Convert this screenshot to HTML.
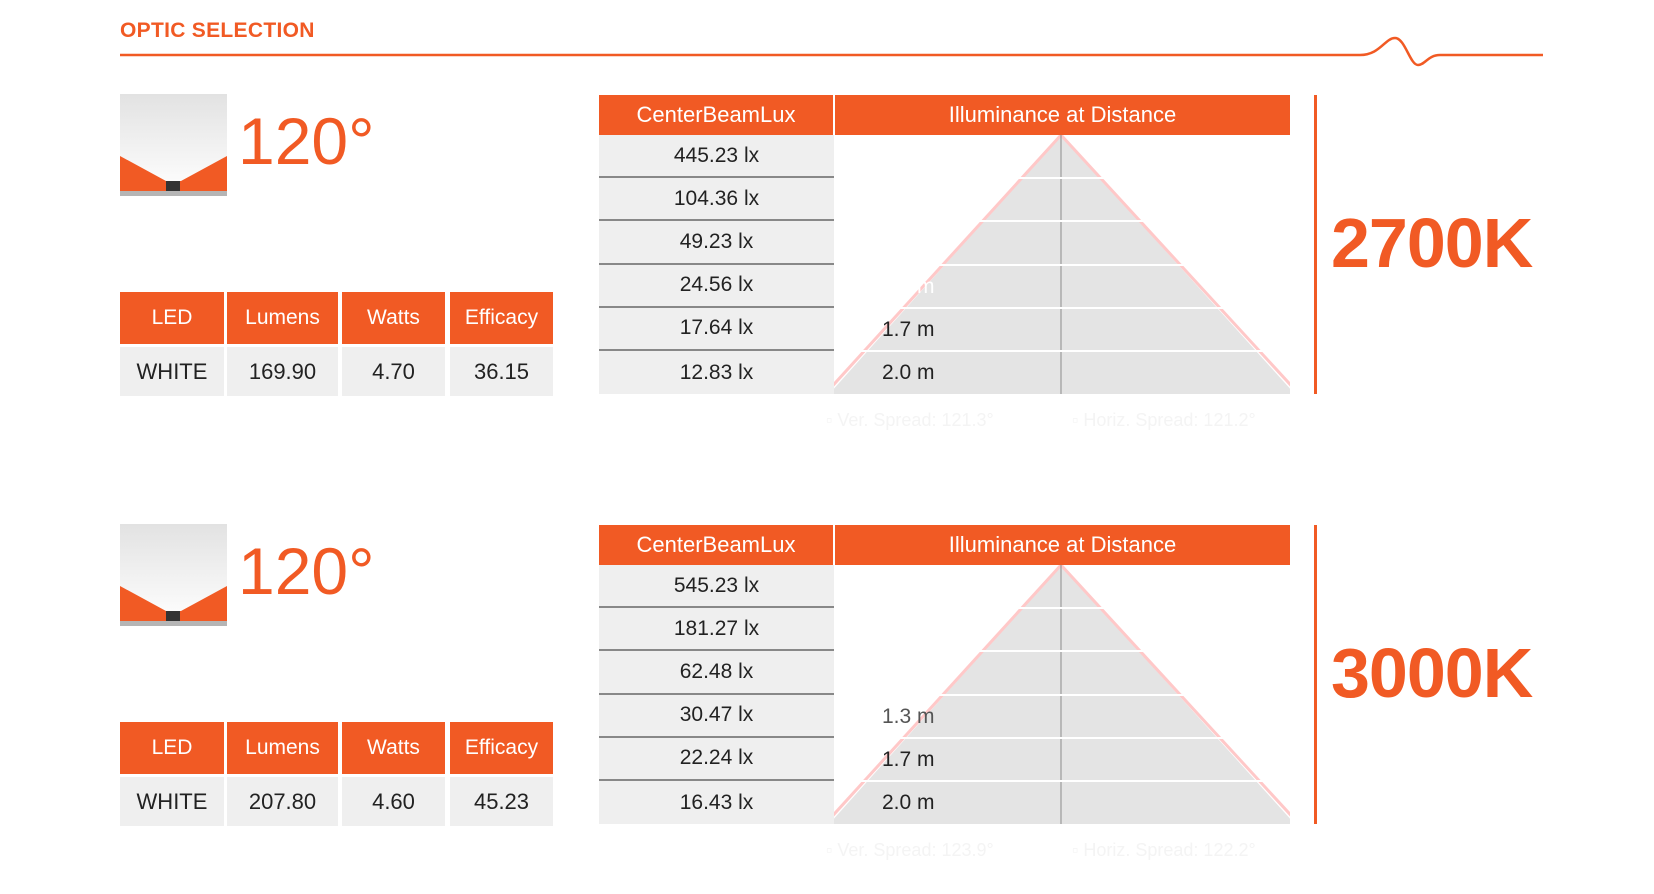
<!DOCTYPE html>
<html><head><meta charset="utf-8">
<style>
body{margin:0;background:#fff;font-family:"Liberation Sans",sans-serif;}
#root{position:relative;width:1654px;height:894px;overflow:hidden;}
.abs{position:absolute;}
.cell{position:absolute;display:flex;align-items:center;justify-content:center;box-sizing:border-box;}
</style></head><body>
<div id="root">
<div class="abs" style="left:120px;top:19px;font-size:21px;font-weight:bold;color:#f15a24;letter-spacing:0.3px">OPTIC SELECTION</div>
<svg class="abs" style="left:0;top:0" width="1654" height="80">
<path d="M120 55 L1360 55 C1380 55 1385 38 1395 38 C1405 38 1410 65 1418 65 C1425 65 1428 55 1440 55 L1543 55" fill="none" stroke="#f15a24" stroke-width="2.5"/>
</svg>
</div>
<script>
const temps=["2700K","3000K"];
const beamAngles=["120°","120°"];
const lumens=["169.90","207.80"];
const watts=["4.70","4.60"];
const efficacy=["36.15","45.23"];
const luxA=["445.23 lx","104.36 lx","49.23 lx","24.56 lx","17.64 lx","12.83 lx"];
const luxB=["545.23 lx","181.27 lx","62.48 lx","30.47 lx","22.24 lx","16.43 lx"];
const distances=["0.3 m","0.7 m","1.0 m","1.3 m","1.7 m","2.0 m"];
const verSpread=["121.3°","123.9°"];
const horSpread=["121.2°","122.2°"];
const luxSets=[luxA,luxB];
const root=document.getElementById('root');
function mk(tag,css,text,parent){const e=document.createElement(tag);e.style.cssText=css;if(text!==undefined)e.textContent=text;(parent||root).appendChild(e);return e;}
const O='#f15a24';
for(let b=0;b<2;b++){
  const dy=b*430;
  // icon
  const ic=document.createElementNS('http://www.w3.org/2000/svg','svg');
  ic.setAttribute('width','107');ic.setAttribute('height','103');
  ic.style.cssText=`position:absolute;left:120px;top:${94+dy}px`;
  ic.innerHTML='<defs><linearGradient id="g'+b+'" x1="0" y1="0" x2="0" y2="1"><stop offset="0" stop-color="#e2e2e2"/><stop offset="1" stop-color="#fff"/></linearGradient></defs><rect width="107" height="100" fill="url(#g'+b+')"/><polygon points="0,62 46,87 61,87 107,62 107,97 0,97" fill="#f15a24"/><rect x="46" y="87" width="14" height="10" fill="#333"/><rect y="97" width="107" height="5" fill="#b5b5b5"/>';
  
  root.appendChild(ic);
  const ang=mk('div',`position:absolute;left:238px;top:${108+dy}px;font-size:66px;color:${O};line-height:1`,beamAngles[b]);
  
  
  // spec table
  const cols=[[120,104],[227,111],[342,103],[450,103]];
  const heads=["LED","Lumens","Watts","Efficacy"];
  const vals=["WHITE",lumens[b],watts[b],efficacy[b]];
  for(let c=0;c<4;c++){
    const h=mk('div',`left:${cols[c][0]}px;top:${292+dy}px;width:${cols[c][1]}px;height:52px;background:${O};color:#fff;font-size:21px`,heads[c]);
    h.className='cell';
    
    
    const v=mk('div',`left:${cols[c][0]}px;top:${347+dy}px;width:${cols[c][1]}px;height:49px;background:#efefef;color:#222;font-size:22px`,vals[c]);
    v.className='cell';
    
    
  }
  // lux table headers
  const h1=mk('div',`left:599px;top:${95+dy}px;width:234px;height:40px;background:${O};color:#fff;font-size:22px`,'CenterBeamLux');
  h1.className='cell';
  
  
  const h2=mk('div',`left:835px;top:${95+dy}px;width:455px;height:40px;background:${O};color:#fff;font-size:22px`,'Illuminance at Distance');
  h2.className='cell';
  
  
  // beam triangle
  const top=135+dy, rh=43.2, n=distances.length, bot=top+rh*n;
  const tri=document.createElementNS('http://www.w3.org/2000/svg','svg');
  tri.setAttribute('width','456');tri.setAttribute('height',String(rh*n));
  tri.style.cssText=`position:absolute;left:834px;top:${top}px`;
  
  
  const H=rh*n;
  tri.innerHTML=`<polygon points="227,0 -5,${H} 461,${H}" fill="#e4e4e4"/>
  <line x1="227" y1="0" x2="-2" y2="${H*0.97}" stroke="#ffc8c8" stroke-width="3"/>
  <line x1="227" y1="0" x2="458" y2="${H*0.97}" stroke="#ffc8c8" stroke-width="3"/>
  <line x1="227" y1="0" x2="227" y2="${H}" stroke="#9a9a9a" stroke-width="1.2"/>`;
  root.appendChild(tri);
  for(let r=0;r<n;r++){
    const y=top+r*rh;
    const lc=mk('div',`left:599px;top:${y}px;width:235px;height:${rh}px;background:#efefef;color:#222;font-size:21px;${r<n-1?'border-bottom:2px solid #888;':''}`,luxSets[b][r]);
    lc.className='cell';
    
    
    if(r<n-1){const ln=mk('div',`position:absolute;left:834px;top:${y+rh-1}px;width:456px;height:2px;background:#fff`);
      
      }
    const d=mk('div',`position:absolute;left:882px;top:${y}px;height:${rh}px;line-height:${rh}px;font-size:21px;color:${r>=4?'#222':(r==3&&b==1?'#555':'#fff')}`,distances[r]);
    
    
  }
  const lg1=mk('div',`position:absolute;left:826px;top:${410+dy}px;font-size:18px;color:#f4f4f4`,'▫  Ver. Spread: '+verSpread[b]);
  
  
  const lg2=mk('div',`position:absolute;left:1072px;top:${410+dy}px;font-size:18px;color:#f4f4f4`,'▫  Horiz. Spread: '+horSpread[b]);
  
  
  const vl=mk('div',`position:absolute;left:1314px;top:${95+dy}px;width:3px;height:299px;background:${O}`);
  
  
  const t=mk('div',`position:absolute;left:1331px;top:${208+dy}px;font-size:70px;font-weight:bold;color:${O};line-height:1;letter-spacing:-1px`,temps[b]);
  
  
}
</script>
</body></html>
